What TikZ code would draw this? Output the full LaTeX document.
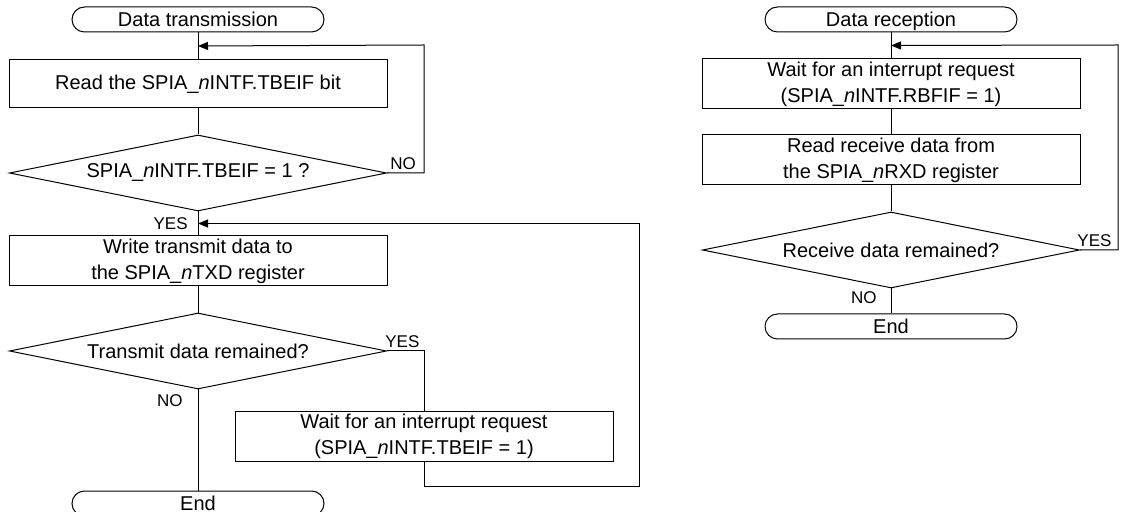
\documentclass[tikz,border=0pt]{standalone}
\usepackage{fontspec}
\setmainfont{Liberation Sans}
\usetikzlibrary{arrows.meta, positioning, calc, shapes.geometric}

\begin{document}
\begin{tikzpicture}[
    x=1pt, y=1pt,
    node distance=12.5pt,
    terminal/.style={rectangle, rounded corners=6.25pt, draw, line width=0.5pt, minimum width=126pt, minimum height=12.5pt, inner sep=0pt, text height=7.2pt, text depth=0pt, font=\fontsize{10}{13}\selectfont},
    process/.style={rectangle, draw, line width=0.5pt, minimum width=189pt, minimum height=25pt, inner sep=0pt, align=center, font=\fontsize{10}{13}\selectfont},
    decision/.style={diamond, draw, line width=0.5pt, aspect=5, minimum width=188.5pt, minimum height=38pt, inner sep=0pt, font=\fontsize{10}{13}\selectfont},
    flow/.style={line width=0.5pt},
    arrow/.style={-{Triangle[length=5pt, width=4pt]}, line width=0.5pt},
    branch/.style={font=\fontsize{8.5}{10}\selectfont, inner sep=1.5pt}
]
\useasboundingbox (0,0) rectangle (561,-256);

% DATA TRANSMISSION
\node[terminal] (txstart) at (99,-9.75) {Data transmission};
\node[process, below=13.5pt of txstart, minimum height=24pt] (txread) {Read the SPIA\_\textit{n}INTF.TBEIF bit};
\node[decision, below=13pt of txread] (txcheck) {SPIA\_\textit{n}INTF.TBEIF = 1 ?};
\node[process, below=12pt of txcheck] (txwrite) {Write transmit data to\\the SPIA\_\textit{n}TXD register};
\node[decision, below=13pt of txwrite] (txmore) {Transmit data remained?};
\node[terminal, below=50.5pt of txmore] (txend) {End};

% Wait box on the YES side
\node[process, anchor=north] (txwait) at (212,-205.5) {Wait for an interrupt request\\(SPIA\_\textit{n}INTF.TBEIF = 1)};

% Junctions and corners of the loops
\coordinate (txjoin1) at ($(txstart.south)!0.5!(txread.north)$);
\coordinate (txjoin2) at ($(txcheck.south)!0.5!(txwrite.north)$);
\coordinate (txloop1) at (212,-22.5);
\coordinate (txloop2) at (319.5,-243);

% Main line
\draw[flow] (txstart) -- (txread);
\draw[flow] (txread) -- (txcheck);
\draw[flow] (txcheck) -- (txwrite);
\draw[flow] (txwrite) -- (txmore);
\draw[flow] (txmore) -- (txend);

% NO: read the flag again
\draw[arrow] (txcheck.east) -| (txloop1) -- (txjoin1);
\node[branch, anchor=south west] (txno1) at (txcheck.east) {NO};

% YES: wait, then write the next data
\draw[flow] (txmore.east) -| (txwait.north);
\draw[arrow] (txwait.south) |- (txloop2) |- (txjoin2);
\node[branch, anchor=south west, xshift=-2.5pt] (txyes2) at (txmore.east) {YES};
\node[branch, anchor=east, xshift=-3.5pt] (txyes1) at (txjoin2) {YES};
\node[branch, anchor=north east, xshift=-6pt, yshift=-1pt] (txno2) at (txmore.south) {NO};

% DATA RECEPTION
\node[terminal] (rxstart) at (445.5,-9.75) {Data reception};
\node[process, below=13pt of rxstart] (rxwait) {Wait for an interrupt request\\(SPIA\_\textit{n}INTF.RBFIF = 1)};
\node[process, below=12.5pt of rxwait] (rxread) {Read receive data from\\the SPIA\_\textit{n}RXD register};
\node[decision, below=13pt of rxread] (rxmore) {Receive data remained?};
\node[terminal, below=12.5pt of rxmore] (rxend) {End};

\coordinate (rxjoin) at ($(rxstart.south)!0.5!(rxwait.north)$);
\coordinate (rxloop) at (559,-22.5);

\draw[flow] (rxstart) -- (rxwait);
\draw[flow] (rxwait) -- (rxread);
\draw[flow] (rxread) -- (rxmore);
\draw[flow] (rxmore) -- (rxend);

% YES: wait for the next byte
\draw[arrow] (rxmore.east) -| (rxloop) -- (rxjoin);
\node[branch, anchor=south west, xshift=-3pt] (rxyes) at (rxmore.east) {YES};
\node[branch, anchor=north east, xshift=-5.5pt] (rxno) at (rxmore.south) {NO};

\end{tikzpicture}
\end{document}
